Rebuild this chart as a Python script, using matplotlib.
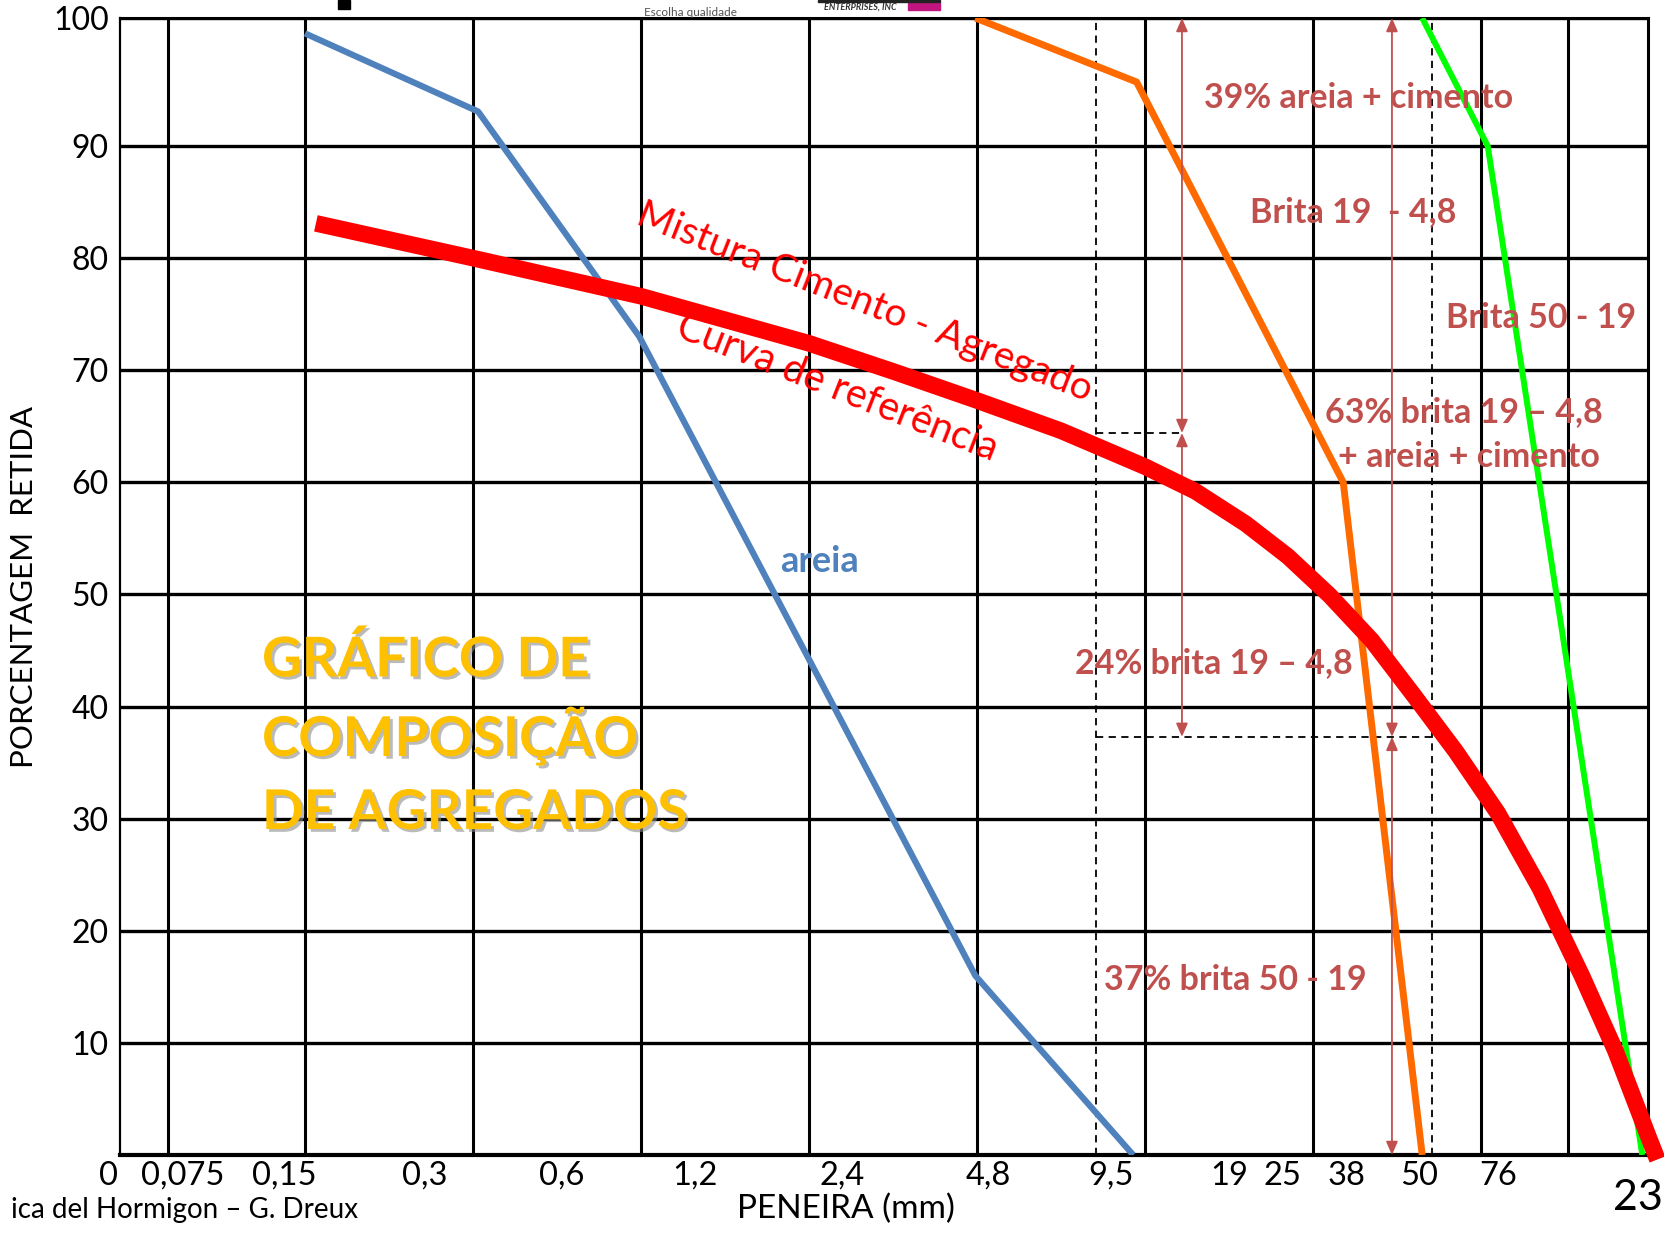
import numpy as np
import matplotlib
matplotlib.use("Agg")
import matplotlib.pyplot as plt
import matplotlib.patheffects as pe
from matplotlib.patches import Rectangle

plt.rcParams['font.family'] = ['Lato', 'DejaVu Sans']

# x is the sieve position on the chart (one unit = one sieve step, 0 = the 0,15 line)
x_ticks = [-0.73, -0.125, 0.71, 1.53, 2.32, 3.20, 4.07, 4.80, 5.50, 5.82, 6.20, 6.63, 7.10]
x_labels = ['0,075', '0,15', '0,3', '0,6', '1,2', '2,4', '4,8', '9,5', '19', '25', '38', '50', '76']
zero_x = -1.17
grid_x = [-0.815, 0, 1, 2, 3, 4, 5, 6, 7, 7.52]
y_ticks = [10, 20, 30, 40, 50, 60, 70, 80, 90, 100]

areia_x = [0.0, 1.03, 1.99, 3.99, 4.93]
areia_y = [98.8, 92.7, 73.0, 16.0, 0.0]

brita19_x = [3.99, 4.95, 6.18, 6.65]
brita19_y = [100, 95.0, 60.0, 0.0]

brita50_x = [6.65, 7.04, 7.96]
brita50_y = [100, 90, 0]

mistura_x = [0.065, 1.0, 2.0, 3.0, 3.5, 4.0, 4.5, 5.0, 5.3, 5.6, 5.85, 6.1, 6.35,
             6.6, 6.85, 7.1, 7.35, 7.6, 7.8, 8.0, 8.05]
mistura_y = [83.1, 80.0, 76.6, 72.4, 69.9, 67.3, 64.6, 61.4, 59.2, 56.3, 53.4, 49.9, 45.9,
             41.0, 36.0, 30.5, 23.8, 16.0, 9.3, 1.5, -0.4]

# limits between the fractions
split_x1, split_x2 = 4.71, 6.71
split_y1, split_y2 = 64.4, 37.3
arrow_x1, arrow_x2 = 5.22, 6.47

K = 12.8 / 11.21  # the top band of the scanned grid is a bit taller


def fwd(v):
    v = np.asarray(v, dtype=float)
    return np.where(v <= 90, v, 90 + (v - 90) * K)


def inv(u):
    u = np.asarray(u, dtype=float)
    return np.where(u <= 90, u, 90 + (u - 90) / K)


W, H = 1664, 1235
fig = plt.figure(figsize=(W / 100, H / 100), dpi=100)
ax = fig.add_axes([120 / W, 80 / H, (1648 - 120) / W, (1155 - 18) / H])
ax.set_yscale('function', functions=(fwd, inv))

ax.set_xticks(x_ticks)
ax.set_xticklabels(x_labels, fontsize=23.5)
ax.set_yticks(y_ticks)
ax.set_yticklabels([str(v) for v in y_ticks], fontsize=23)
ax.yaxis.set_minor_locator(matplotlib.ticker.NullLocator())
ax.tick_params(axis='x', length=0, pad=4)
ax.tick_params(axis='y', length=0, pad=8)
ax.set_xlim(-1.101, 7.994)
ax.set_ylim(0, 100)

# the "0" sits left of the frame, outside the x range
ax.annotate('0', xy=(zero_x, 0), xycoords=('data', 'axes fraction'), xytext=(0, -4),
            textcoords='offset points', ha='center', va='top', fontsize=23.5,
            annotation_clip=False)

for gx in grid_x:
    ax.axvline(gx, color='black', lw=2.2, zorder=1)
for gy in y_ticks:
    ax.axhline(gy, color='black', lw=2.4, zorder=1)

for sp in ['top', 'right']:
    ax.spines[sp].set_linewidth(2.2)
ax.spines['left'].set_linewidth(1.6)
ax.spines['bottom'].set_linewidth(3.0)

ax.set_ylabel('PORCENTAGEM  RETIDA', fontsize=22.5, labelpad=11)
ax.set_xlabel('PENEIRA (mm)', fontsize=24)
ax.xaxis.set_label_coords((846 - 120) / (1648 - 120), -0.034)

# dashed limits
dash = (0, (4, 3))
ax.plot([split_x1, split_x1], [0, 100], color='black', lw=1.3, ls=dash, zorder=2)
ax.plot([split_x2, split_x2], [0, 100], color='black', lw=1.3, ls=dash, zorder=2)
ax.plot([split_x1, arrow_x1], [split_y1, split_y1], color='black', lw=1.3, ls=dash, zorder=2)
ax.plot([split_x1, split_x2], [split_y2, split_y2], color='black', lw=1.3, ls=dash, zorder=2)

# curves
ax.plot(areia_x, areia_y, color='#4F81BD', lw=4.5, zorder=3, solid_capstyle='butt')
ax.plot(brita19_x, brita19_y, color='#FF6A00', lw=5.0, zorder=3, solid_capstyle='butt')
ax.plot(brita50_x, brita50_y, color='#00FF00', lw=4.3, zorder=3, solid_capstyle='butt')
ax.plot(mistura_x, mistura_y, color='#FF0000', lw=12, zorder=4, solid_capstyle='butt',
        solid_joinstyle='round', clip_on=False)

# arrows
ac = '#C0504D'
for xa, y0, y1 in [(arrow_x1, split_y1, 100), (arrow_x1, split_y2, split_y1),
                   (arrow_x2, split_y2, 100), (arrow_x2, 0, split_y2)]:
    ax.annotate('', xy=(xa, y1), xytext=(xa, y0),
                arrowprops=dict(arrowstyle='<|-|>,head_length=0.8,head_width=0.35',
                                color=ac, lw=1.3, shrinkA=0, shrinkB=0), zorder=3)

tk = dict(color=ac, fontsize=24.5, fontweight='bold', ha='center', va='center', zorder=5)
ax.text(6.27, 93.75, '39% areia + cimento', **tk)
ax.text(6.24, 84.1, 'Brita 19  - 4,8', **tk)
ax.text(7.36, 74.7, 'Brita 50 - 19', **tk)
ax.text(6.90, 66.3, '63% brita 19 \u2013 4,8', **tk)
ax.text(6.93, 62.3, '+ areia + cimento', **tk)
ax.text(5.41, 43.9, '24% brita 19 \u2013 4,8', **tk)
ax.text(5.54, 15.6, '37% brita 50 - 19', **tk)
ax.text(3.06, 52.9, 'areia', color='#4F81BD', fontsize=26, fontweight='bold',
        ha='center', va='center', zorder=5)

ax.text(3.33, 76.1, 'Mistura Cimento - Agregado', color='#FF0000', fontsize=28,
        rotation=-21.5, rotation_mode='anchor', ha='center', va='center', zorder=5)
ax.text(3.17, 68.4, 'Curva de refer\u00eancia', color='#FF0000', fontsize=28.5,
        rotation=-21.5, rotation_mode='anchor', ha='center', va='center', zorder=5)

shadow = [pe.SimplePatchShadow(offset=(2, -2), shadow_rgbFace='#8c8c8c', alpha=0.6), pe.Normal()]
for txt, yv in [('GR\u00c1FICO DE', 44.2), ('COMPOSI\u00c7\u00c3O', 37.4), ('DE AGREGADOS', 30.5)]:
    ax.text(-0.256, yv, txt, color='#FFC000', fontsize=39.5, fontweight='bold',
            ha='left', va='center', zorder=5, path_effects=shadow)

# slide leftovers
fig.text(358 / W, 1 - 1210 / H, 'ica del Hormigon \u2013 G. Dreux', fontsize=20,
         ha='right', va='center')
fig.text(1638 / W, 1 - 1198 / H, '23', fontsize=31, ha='center', va='center')
fig.text(690 / W, 1 - 13 / H, 'Escolha qualidade', fontsize=8.5, color='#555555',
         ha='center', va='center')
fig.text(860 / W, 1 - 7 / H, 'ENTERPRISES, INC', fontsize=6.5, color='#333333',
         fontweight='bold', style='italic', ha='center', va='center')
fig.patches.append(Rectangle((908 / W, 1 - 10 / H), 32 / W, 7 / H,
                             transform=fig.transFigure, color='#C0157E'))
fig.patches.append(Rectangle((818 / W, 1 - 2 / H), 122 / W, 2 / H,
                             transform=fig.transFigure, color='#222222'))
fig.patches.append(Rectangle((338 / W, 1 - 9 / H), 12 / W, 9 / H,
                             transform=fig.transFigure, color='black'))

fig.savefig('out.png', dpi=100)
